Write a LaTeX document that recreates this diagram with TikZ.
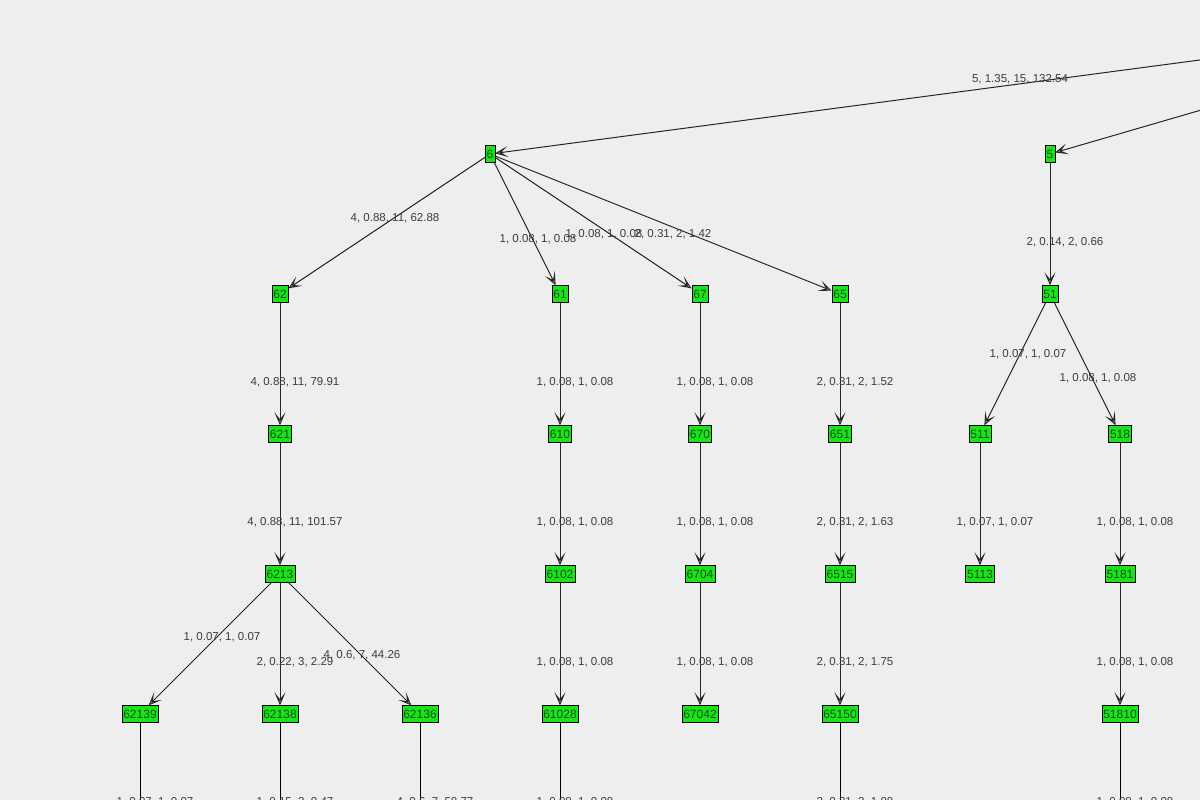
\documentclass[tikz,border=0pt]{standalone}
\usepackage{fontspec}
\setmainfont{Liberation Sans}
\usetikzlibrary{arrows.meta}
\definecolor{bg}{RGB}{238,238,238}
\definecolor{ng}{RGB}{30,225,30}
\definecolor{nt}{RGB}{10,90,10}
\definecolor{lt}{RGB}{60,60,60}
\begin{document}
\begin{tikzpicture}[x=1pt,y=-1pt,
  nd/.style={draw=black,fill=ng,text=nt,font=\fontsize{12}{13}\selectfont,inner sep=1.5pt,minimum height=17pt,minimum width=9pt},
  lb/.style={text=lt,font=\fontsize{11.5}{12}\selectfont,inner sep=0pt},
  ed/.style={draw=black!85,line width=1pt,-{Stealth[length=13pt,width=11pt,inset=7pt,fill=gray!70]}},
  ln/.style={draw=black,line width=1pt}]
\clip (0,0) rectangle (1200,800);
\fill[bg] (0,0) rectangle (1200,800);
\coordinate (r1) at (1215,58);
\coordinate (r2) at (1215,106);
\node[nd] (n6) at (490,154) {6};
\node[nd] (n5) at (1050,154) {5};
\foreach \n/\x/\y in {62/280/294,61/560/294,67/700/294,65/840/294,51/1050/294,
 621/280/434,610/560/434,670/700/434,651/840/434,511/980/434,518/1120/434,
 6213/280/574,6102/560/574,6704/700/574,6515/840/574,5113/980/574,5181/1120/574,
 62139/140/714,62138/280/714,62136/420/714,61028/560/714,67042/700/714,65150/840/714,51810/1120/714}
 \node[nd] (n\n) at (\x,\y) {\n};
\draw[ed] (r1) -- (n6);
\draw[ed] (r2) -- (n5);
\foreach \a/\b in {6/62,6/61,6/67,6/65,5/51,62/621,61/610,67/670,65/651,51/511,51/518,
 621/6213,610/6102,670/6704,651/6515,511/5113,518/5181,
 6213/62139,6213/62138,6213/62136,6102/61028,6704/67042,6515/65150,5181/51810}
 \draw[ed] (n\a) -- (n\b);
\foreach \n/\x in {62139/140,62138/280,62136/420,61028/560,65150/840,51810/1120}{
 \coordinate (e\n) at (\x,830);
 \draw[ln] (n\n) -- (e\n);}
\foreach \t/\x/\y [count=\i] in {{5, 1.35, 15, 132.54}/1020/79,
 {4, 0.88, 11, 62.88}/395/218,{1, 0.08, 1, 0.08}/538/239,{1, 0.08, 1, 0.08}/604/234,{2, 0.31, 2, 1.42}/673/234,{2, 0.14, 2, 0.66}/1065/242,
 {4, 0.88, 11, 79.91}/295/382,{1, 0.08, 1, 0.08}/575/382,{1, 0.08, 1, 0.08}/715/382,{2, 0.31, 2, 1.52}/855/382,{1, 0.07, 1, 0.07}/1028/354,{1, 0.08, 1, 0.08}/1098/378,
 {4, 0.88, 11, 101.57}/295/522,{1, 0.08, 1, 0.08}/575/522,{1, 0.08, 1, 0.08}/715/522,{2, 0.31, 2, 1.63}/855/522,{1, 0.07, 1, 0.07}/995/522,{1, 0.08, 1, 0.08}/1135/522,
 {1, 0.07, 1, 0.07}/222/637,{2, 0.22, 3, 2.29}/295/662,{4, 0.6, 7, 44.26}/362/655,{1, 0.08, 1, 0.08}/575/662,{1, 0.08, 1, 0.08}/715/662,{2, 0.31, 2, 1.75}/855/662,{1, 0.08, 1, 0.08}/1135/662,
 {1, 0.07, 1, 0.07}/155/802,{1, 0.15, 2, 0.47}/295/802,{4, 0.6, 7, 58.77}/435/802,{1, 0.08, 1, 0.08}/575/802,{2, 0.31, 2, 1.88}/855/802,{1, 0.08, 1, 0.08}/1135/802}
 \node[lb] (l\i) at (\x,\y) {\t};
\end{tikzpicture}
\end{document}
